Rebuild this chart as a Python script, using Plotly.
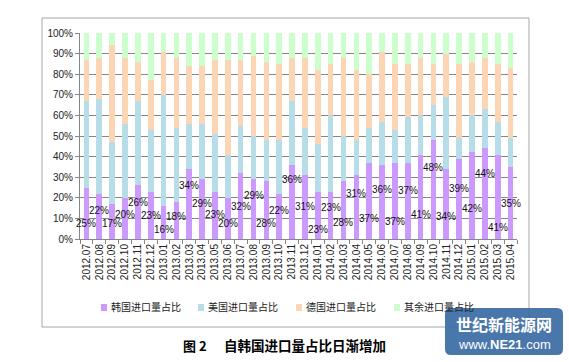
import plotly.graph_objects as go

months = ["2012.07", "2012.08", "2012.09", "2012.10", "2012.11", "2012.12",
          "2013.01", "2013.02", "2013.03", "2013.04", "2013.05", "2013.06",
          "2013.07", "2013.08", "2013.09", "2013.10", "2013.11", "2013.12",
          "2014.01", "2014.02", "2014.03", "2014.04", "2014.05", "2014.06",
          "2014.07", "2014.08", "2014.09", "2014.10", "2014.11", "2014.12",
          "2015.01", "2015.02", "2015.03", "2015.04"]

korea = [25, 22, 17, 20, 26, 23, 16, 18, 34, 29, 23, 20, 32, 29, 28, 22, 36,
         31, 23, 23, 28, 31, 37, 36, 37, 37, 41, 48, 34, 39, 42, 44, 41, 35]
usa = [42, 46, 30, 36, 41, 30, 54, 36, 22, 27, 28, 21, 23, 21, 20, 26, 31,
       23, 23, 37, 22, 17, 17, 21, 16, 22, 19, 17, 35, 10, 18, 19, 16, 14]
germany = [20, 20, 47, 32, 19, 24, 21, 34, 28, 28, 36, 46, 32, 39, 38, 37, 21,
           34, 36, 25, 38, 34, 26, 34, 32, 26, 28, 20, 21, 36, 26, 25, 28, 34]
others = [13, 12, 6, 12, 14, 23, 9, 12, 16, 16, 13, 13, 13, 11, 14, 15, 12,
          12, 18, 15, 12, 18, 20, 9, 15, 15, 12, 15, 10, 15, 14, 12, 15, 17]

series_names = ["韩国进口量占比", "美国进口量占比", "德国进口量占比", "其余进口量占比"]
series_colors = ["#CC99FF", "#B7DEE8", "#FCD5B5", "#CCFFCC"]

# vertical placement of the Korea share labels (in % units of the y axis)
label_y = [7.3, 14, 7.3, 12, 17.5, 11.3, 4.7, 10.8, 25.8, 17, 12, 7.3, 15.7,
           21, 7.3, 13.7, 29, 15.7, 4.4, 15.3, 8, 22, 10, 24, 8.4, 23.7, 12,
           34.6, 10.8, 24.6, 15, 32, 5.7, 17]

W, H = 569, 362
L, R, T, B = 80, 52, 33, 123
PW, PH = W - L - R, H - T - B


def px(x):
    return (x - L) / PW


def py(y):
    return (H - B - y) / PH


idx = list(range(len(months)))

fig = go.Figure()
for name, vals, col in zip(series_names, [korea, usa, germany, others], series_colors):
    fig.add_trace(go.Bar(x=idx, y=vals, name=name, marker_color=col,
                         marker_line_width=0))

annotations = []
for i, v, ly in zip(idx, korea, label_y):
    annotations.append(dict(x=i, y=ly, xref="x", yref="y", text=f"{v}%",
                            showarrow=False, xanchor="center", yanchor="middle",
                            font=dict(family="Liberation Sans", size=10, color="#111")))

shapes = []
# outer chart border
shapes.append(dict(type="rect", xref="paper", yref="paper",
                   x0=px(42), x1=px(529), y0=py(327), y1=py(18),
                   line=dict(color="#A6A6A6", width=1), layer="below"))

# manual legend
leg_sq_x = [101, 198, 296, 394]
for name, col, sx in zip(series_names, series_colors, leg_sq_x):
    shapes.append(dict(type="rect", xref="paper", yref="paper",
                       x0=px(sx), x1=px(sx + 6), y0=py(311), y1=py(304),
                       fillcolor=col, line=dict(width=0)))
    annotations.append(dict(x=px(sx + 8), y=py(306), xref="paper", yref="paper",
                            text=name, showarrow=False, xanchor="left", yanchor="middle",
                            font=dict(family="Noto Sans CJK SC", size=10, color="#222")))

# caption
annotations.append(dict(x=px(195), y=py(345), xref="paper", yref="paper",
                        text="<b>图 2</b>", showarrow=False,
                        xanchor="center", yanchor="middle",
                        font=dict(family="Noto Sans CJK SC", size=13, color="#000")))
annotations.append(dict(x=px(305), y=py(345), xref="paper", yref="paper",
                        text="<b>自韩国进口量占比日渐增加</b>", showarrow=False,
                        xanchor="center", yanchor="middle",
                        font=dict(family="Noto Sans CJK SC", size=13.5, color="#000")))

# watermark box
x0, x1, y0, y1 = px(445), px(563), py(355), py(308)
rx, ry = 6 / PW, 6 / PH
path = (f"M {x0+rx},{y0} L {x1-rx},{y0} Q {x1},{y0} {x1},{y0+ry} "
        f"L {x1},{y1-ry} Q {x1},{y1} {x1-rx},{y1} L {x0+rx},{y1} "
        f"Q {x0},{y1} {x0},{y1-ry} L {x0},{y0+ry} Q {x0},{y0} {x0+rx},{y0} Z")
shapes.append(dict(type="path", xref="paper", yref="paper", path=path,
                   fillcolor="#3F6FA6", line=dict(width=0), opacity=0.95, layer="above"))
annotations.append(dict(x=px(504), y=py(323.5), xref="paper", yref="paper",
                        text="<b>世纪新能源网</b>", showarrow=False,
                        xanchor="center", yanchor="middle",
                        font=dict(family="Noto Sans CJK SC", size=16, color="#FFFFFF")))
annotations.append(dict(x=px(504), y=py(344.5), xref="paper", yref="paper",
                        text="www.<b>NE21</b>.com", showarrow=False,
                        xanchor="center", yanchor="middle",
                        font=dict(family="Liberation Sans", size=13, color="#FFFFFF")))

fig.update_layout(
    width=W, height=H,
    margin=dict(l=L, r=R, t=T, b=B),
    paper_bgcolor="white", plot_bgcolor="white",
    barmode="stack", barnorm="percent", bargap=0.56,
    showlegend=False,
    annotations=annotations, shapes=shapes,
    xaxis=dict(range=[-0.5, len(months) - 0.5], tickmode="array",
               tickvals=idx, ticktext=months, tickangle=-90,
               ticks="", showline=True, linecolor="#868686", linewidth=1,
               showgrid=False, zeroline=False,
               minor=dict(tickmode="linear", tick0=-0.5, dtick=1, ticks="outside",
                          ticklen=4, tickcolor="#868686", showgrid=False),
               tickfont=dict(family="Liberation Sans", size=10, color="#222")),
    yaxis=dict(range=[0, 100], dtick=10, ticksuffix="%",
               ticks="outside", ticklen=4, tickcolor="#868686",
               showline=True, linecolor="#868686", linewidth=1,
               showgrid=True, gridcolor="#868686", gridwidth=1,
               zeroline=False,
               tickfont=dict(family="Liberation Sans", size=10, color="#222")),
)

fig.write_html("out.html", config={"displayModeBar": False},
               post_script="document.body.style.margin='0';")
